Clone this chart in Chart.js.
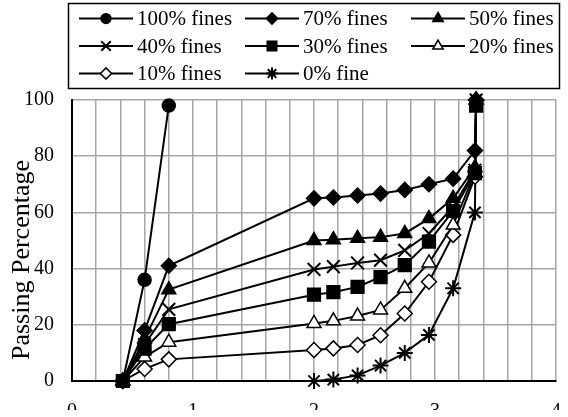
<!DOCTYPE html>
<html>
<head>
<meta charset="utf-8">
<script src="https://cdn.jsdelivr.net/npm/chart.js@4.4.1/dist/chart.umd.min.js"></script>
<style>
  html, body { margin: 0; padding: 0; background: #fff; }
  #wrap { width: 568px; height: 410px; overflow: hidden; }
</style>
</head>
<body>
<div id="wrap"><canvas id="myChart1" width="580" height="430"></canvas></div>
<script>
// x positions (log of particle size)
const xFines = [0.42, 0.6, 0.8];
const xMixed = [0.42, 0.6, 0.8, 2.0, 2.16, 2.36, 2.55, 2.75, 2.95, 3.15, 3.33, 3.34];
const xClean = [2.0, 2.16, 2.36, 2.55, 2.75, 2.95, 3.15, 3.33, 3.34];

// passing percentage per mix
const fines100 = [0, 36, 98];
const fines70 = [0, 18, 41, 65, 65.3, 66, 66.7, 68, 70, 72, 82, 100];
const fines50 = [0, 15, 32.5, 50, 50.3, 50.8, 51.2, 52.5, 57.8, 65, 76, 100];
const fines40 = [0, 13, 25.5, 39.7, 40.7, 42, 43, 46.5, 52.5, 62, 75, 100];
const fines30 = [0, 11.5, 20.2, 30.7, 31.6, 33.5, 37, 41.2, 49.6, 60.5, 74, 98];
const fines20 = [0, 8.5, 13.8, 20.5, 21.4, 23.1, 25.3, 33, 42, 55.5, 74, 100];
const fines10 = [0, 4.3, 7.7, 11, 11.6, 12.8, 16.3, 24, 35.3, 52, 72.7, 100];
const fines0 = [0, 0.5, 2, 5.5, 10, 16.4, 33, 60, 100];

const seriesLabels = ["100% fines", "70% fines", "50% fines", "40% fines", "30% fines", "20% fines", "10% fines", "0% fine"];
const xTickLabels = ["0", "1", "2", "3", "4"];
const yTickLabels = ["0", "20", "40", "60", "80", "100"];
const yTitle = "Passing Percentage";

const serif = '"Liberation Serif", "Times New Roman", serif';

function pts(xs, ys) {
    return ys.map((y, i) => ({ x: xs[i], y: y }));
}

function series(label, xs, ys, style, fill, radius, bw) {
    return {
        label: label,
        data: pts(xs, ys),
        borderColor: "#000",
        borderWidth: 2,
        pointStyle: style,
        pointBackgroundColor: fill,
        pointBorderColor: "#000",
        pointBorderWidth: bw,
        pointRadius: radius,
        pointHoverRadius: radius,
        tension: 0,
        clip: false,
    };
}

// legend in a box (three columns) and the y axis title, sitting a bit low like the original
const boxLegend = {
    id: "boxLegend",
    afterDraw(chart) {
        const ctx = chart.ctx;
        ctx.save();
        ctx.strokeStyle = "#000";
        ctx.lineWidth = 1.5;
        ctx.strokeRect(68.5, 3.5, 491, 85);
        ctx.font = "21px " + serif;
        ctx.textBaseline = "middle";
        chart.data.datasets.forEach((ds, i) => {
            const col = i % 3;
            const row = Math.floor(i / 3);
            const x = 79 + col * 166;
            const y = 18.5 + row * 27.5;
            ctx.beginPath();
            ctx.moveTo(x, y);
            ctx.lineTo(x + 54, y);
            ctx.lineWidth = 2;
            ctx.strokeStyle = "#000";
            ctx.stroke();
            ctx.fillStyle = ds.pointBackgroundColor;
            ctx.lineWidth = ds.pointBorderWidth;
            Chart.helpers.drawPoint(ctx, {
                pointStyle: ds.pointStyle,
                radius: ds.pointRadius * 0.75,
                rotation: 0,
                borderWidth: ds.pointBorderWidth,
            }, x + 27, y);
            ctx.fillStyle = "#000";
            ctx.fillText(ds.label, x + 58, y + 1);
        });

        ctx.translate(22, 260);
        ctx.rotate(-Math.PI / 2);
        ctx.font = "26px " + serif;
        ctx.textAlign = "center";
        ctx.textBaseline = "middle";
        ctx.fillStyle = "#000";
        ctx.fillText(yTitle, 0, 0);
        ctx.restore();
    },
};

const ctx = document.getElementById("myChart1").getContext("2d");

const myChart = new Chart(ctx, {
    type: "line",
    data: {
        datasets: [
            series(seriesLabels[0], xFines, fines100, "circle", "#000", 6.5, 1.5),
            series(seriesLabels[1], xMixed, fines70, "rectRot", "#000", 7.5, 1.5),
            series(seriesLabels[2], xMixed, fines50, "triangle", "#000", 8, 1.5),
            series(seriesLabels[3], xMixed, fines40, "crossRot", "#fff", 9, 2),
            series(seriesLabels[4], xMixed, fines30, "rect", "#000", 9, 1.5),
            series(seriesLabels[5], xMixed, fines20, "triangle", "#fff", 8, 1.5),
            series(seriesLabels[6], xMixed, fines10, "rectRot", "#fff", 7.5, 1.5),
            series(seriesLabels[7], xClean, fines0, "star", "#fff", 8, 2),
        ],
    },
    options: {
        responsive: false,
        animation: false,
        devicePixelRatio: 1,
        layout: { padding: { top: 100, right: 16, left: 0, bottom: 0 } },
        plugins: {
            legend: { display: false },
            tooltip: { enabled: false },
        },
        scales: {
            x: {
                type: "linear",
                min: 0,
                max: 4,
                afterFit: (scale) => { scale.height = 49; },
                grid: { color: "#a6a6a6", lineWidth: 1.5, drawTicks: false },
                border: { display: true, color: "#000", width: 2 },
                ticks: {
                    stepSize: 0.2,
                    autoSkip: false,
                    maxRotation: 0,
                    padding: 19,
                    color: "#000",
                    font: { family: serif, size: 20 },
                    callback: (v) => {
                        const r = Math.round(v);
                        return Math.abs(v - r) < 1e-6 ? xTickLabels[r] : "";
                    },
                },
            },
            y: {
                min: 0,
                max: 100,
                afterFit: (scale) => { scale.width = 72; },
                grid: { color: "#a6a6a6", lineWidth: 1.5, drawTicks: false },
                border: { display: true, color: "#000", width: 2 },
                ticks: {
                    stepSize: 20,
                    padding: 18,
                    color: "#000",
                    font: { family: serif, size: 20 },
                    callback: (v) => yTickLabels[Math.round(v / 20)],
                },
            },
        },
    },
    plugins: [boxLegend],
});
</script>
</body>
</html>
